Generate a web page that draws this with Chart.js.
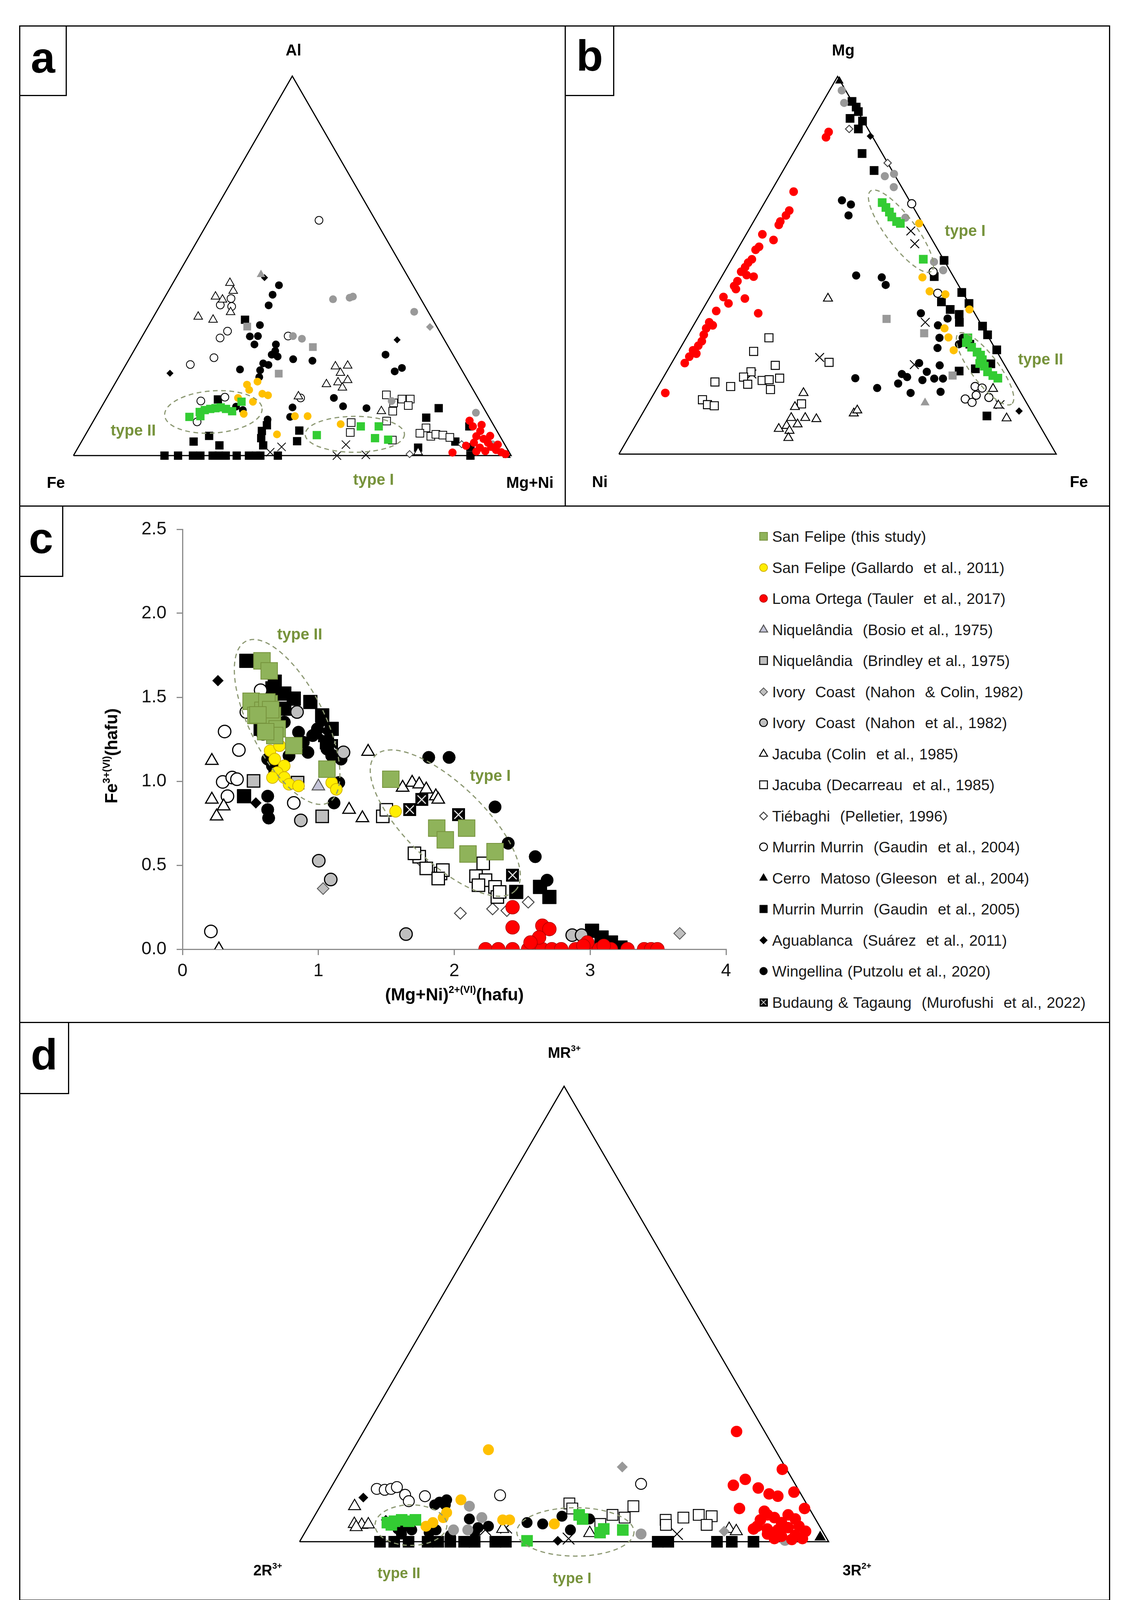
<!DOCTYPE html>
<html>
<head>
<meta charset="utf-8">
<script src="https://cdn.jsdelivr.net/npm/chart.js@4.4.0/dist/chart.umd.min.js"></script>
<style>
html,body{margin:0;padding:0;background:#fff;}
#page{position:relative;width:2902px;height:4162px;background:#fff;font-family:"Liberation Sans",Arial,sans-serif;color:#000;overflow:hidden;}
.abs{position:absolute;}
.t{position:absolute;transform:translate(-50%,-50%);white-space:nowrap;line-height:1;}
.hl{position:absolute;height:0;border-top:3px solid #000;}
.vl{position:absolute;width:0;border-left:3px solid #000;}
.box{position:absolute;border-right:3px solid #000;border-bottom:3px solid #000;box-sizing:border-box;}
.plab{font-weight:bold;font-size:112px;}
.corner{font-weight:bold;font-size:40px;}
.typ{font-weight:bold;font-size:40px;color:#77933c;}
.leg{position:absolute;font-size:39px;color:#1a1a1a;white-space:nowrap;transform:translateY(-50%);line-height:1;word-spacing:2px;}
sup{font-size:58%;vertical-align:0;position:relative;top:-0.75em;}
canvas{position:absolute;}
</style>
</head>
<body>
<div id="page"></div>
<script>
// ---------------- DATA ----------------
const SERIES = [
  'San Felipe (this study)',
  'San Felipe (Gallardo  et al., 2011)',
  'Loma Ortega (Tauler  et al., 2017)',
  'Niquelândia  (Bosio et al., 1975)',
  'Niquelândia  (Brindley et al., 1975)',
  'Ivory  Coast  (Nahon  & Colin, 1982)',
  'Ivory  Coast  (Nahon  et al., 1982)',
  'Jacuba (Colin  et al., 1985)',
  'Jacuba (Decarreau  et al., 1985)',
  'Tiébaghi  (Pelletier, 1996)',
  'Murrin Murrin  (Gaudin  et al., 2004)',
  'Cerro  Matoso (Gleeson  et al., 2004)',
  'Murrin Murrin  (Gaudin  et al., 2005)',
  'Aguablanca  (Suárez  et al., 2011)',
  'Wingellina (Putzolu et al., 2020)',
  'Budaung & Tagaung  (Murofushi  et al., 2022)'
];

// Panel c: [(Mg+Ni)2+(VI), Fe3+(VI)] in hafu
const xTicksC = [0, 1, 2, 3, 4];
const yTicksC = [0.0, 0.5, 1.0, 1.5, 2.0, 2.5];
const cThisStudy = [[0.585,1.717],[0.638,1.657],[0.505,1.476],[0.638,1.462],[0.592,1.422],[0.540,1.392],[0.662,1.392],[0.697,1.312],[0.679,1.272],[0.612,1.295],[0.621,1.472],[0.649,1.426],[0.555,1.395],[0.819,1.212],[1.063,1.072],[1.533,1.012],[1.871,0.721],[1.934,0.651],[2.091,0.721],[2.101,0.567],[2.300,0.581]];
const cGallardo = [[0.645,1.182],[0.714,1.212],[0.679,1.132],[0.749,1.092],[0.697,1.052],[0.662,1.022],[0.749,1.022],[0.784,0.982],[0.854,0.972],[1.098,0.992],[1.132,0.952],[1.568,0.821]];
const cTauler = [[2.230,0],[2.324,0],[2.429,0],[2.544,0],[2.648,0],[2.718,0],[2.787,0],[2.892,0],[2.979,0],[3.066,0],[3.153,0],[3.275,0],[3.397,0],[3.449,0],[3.495,0],[2.429,0.250],[2.429,0.130],[2.648,0.140],[2.700,0.120],[2.624,0.070],[2.561,0.040],[2.979,0.040],[2.95,0.02],[3.10,0.02]];
const cBosio = [[1.00,0.97]];
const cBrindley = [[0.523,1.002],[0.847,0.992],[1.028,0.791]];
const cNahonColin = [[1.035,0.361],[3.659,0.094]];
const cNahon = [[0.843,1.412],[1.185,1.172],[0.871,0.767],[1.003,0.527],[1.091,0.415],[1.645,0.090],[2.868,0.084],[2.937,0.084]];
const cColin = [[0.216,1.122],[0.216,0.891],[0.251,0.791],[0.303,0.851],[1.226,0.831],[1.324,0.781],[1.366,1.176],[1.620,0.962],[1.690,0.992],[1.742,0.982],[1.794,0.952],[1.864,0.911],[1.882,0.891],[0.268,0.0]];
const cDecarreau = [[1.474,0.791],[1.50,0.83],[1.742,0.551],[1.794,0.481],[1.899,0.451],[1.916,0.471],[1.882,0.421],[2.160,0.435],[2.230,0.411],[2.300,0.371],[2.317,0.311],[2.178,0.381],[2.213,0.511],[1.707,0.571],[2.334,0.341]];
const cPelletier = [[1.760,0.521],[2.045,0.214],[2.282,0.240],[2.387,0.230],[2.544,0.280]];
const cGaudin04 = [[0.310,1.296],[0.415,1.186],[0.296,0.996],[0.366,1.022],[0.401,1.012],[0.331,0.911],[0.575,1.542],[0.470,1.412],[0.592,1.282],[0.819,0.871],[0.209,0.106]];
const cGleeson = [[3.014,0.010]];
const cGaudin05 = [[0.470,1.717],[0.679,1.593],[0.662,1.553],[0.749,1.522],[0.819,1.492],[0.941,1.472],[0.749,1.432],[0.575,1.312],[2.456,0.341],[2.631,0.371],[2.700,0.311],[3.014,0.110],[3.084,0.070],[3.153,0.040],[3.223,0.010],[0.453,0.911],[1.028,1.392],[1.098,1.312],[1.063,1.232]];
const cSuarez = [[0.261,1.599],[0.540,0.871]];
const cPutzolu = [[0.627,1.132],[0.662,1.092],[0.679,1.052],[0.627,0.911],[0.627,0.831],[0.634,0.781],[1.812,1.142],[1.962,1.142],[2.300,0.847],[2.397,0.631],[2.596,0.551],[2.683,0.411],[1.115,0.871],[1.150,0.992],[0.784,1.152],[0.889,1.232],[0.958,1.272],[0.923,1.172],[1.098,1.152],[1.167,1.132],[0.993,1.312],[0.854,1.292],[1.063,1.192],[0.749,1.352]];
const cMurofushi = [[1.028,1.312],[1.045,1.272],[1.098,1.212],[1.672,0.831],[1.760,0.891],[2.031,0.801],[2.429,0.441]];

// Panel a: ternary [Al %, Mg+Ni %] (Fe = remainder)
const aThisStudy = [[10.2,21.4],[11.5,23.1],[12.0,24.0],[12.3,25.1],[12.5,26.2],[12.7,27.3],[12.3,28.7],[11.7,30.4],[14.2,31.3],[10.4,23.8],[5.4,52.9],[7.7,61.8],[7.7,65.9],[4.6,66.6],[4.2,69.8]];
const aGallardo = [[18.7,30.3],[19.5,32.3],[17.3,31.5],[16.3,35.0],[15.9,36.5],[15.2,30.0],[14.2,33.9],[11.0,33.4],[10.4,45.4],[10.4,48.3],[8.3,56.9],[5.6,43.7]];
const aTauler = [[9.2,85.9],[7.7,87.4],[6.5,89.7],[5.1,89.5],[4.4,91.5],[3.4,93.0],[2.3,94.3],[1.5,95.8],[0.9,97.3],[0.4,98.5],[2.1,91.8],[1.2,93.5],[3.4,89.8],[0.8,86.2],[2.6,88.4],[5.2,92.6],[2.9,95.5],[1.1,91.5],[8.1,89.2]];
const aBosio = [[47.7,19.0]];
const aBrindley = [[28.6,40.4],[34.0,22.7],[21.6,36.1]];
const aNahonColin = [[33.9,64.5]];
const aNahon = [[41.2,38.7],[41.6,42.3],[41.9,42.9],[37.9,58.9],[31.5,34.4],[30.8,36.8],[11.3,86.3],[3.0,94.2],[14.4,65.5]];
const aColin = [[45.5,13.0],[43.4,14.8],[41.9,11.5],[41.1,13.5],[37.8,17.0],[36.6,10.2],[35.8,14.0],[23.5,48.1],[23.7,50.8],[21.8,50.1],[19.3,50.8],[19.9,52.7],[18.8,48.4],[17.9,52.5],[11.7,64.5],[0.9,78.3],[15.6,43.6]];
const aDecarreau = [[16.0,63.5],[13.9,66.2],[14.9,67.6],[14.9,69.5],[13.2,69.9],[11.7,67.1],[9.1,67.0],[8.7,59.1],[6.1,60.2],[4.1,70.8],[7.3,76.9],[5.9,76.2],[5.1,79.1],[5.6,80.0],[5.4,81.7],[4.8,83.6]];
const aPelletier = [[0.4,76.6],[3.0,87.2]];
const aGaudin04 = [[62.0,25.1],[41.4,15.3],[39.3,16.5],[32.8,18.8],[31.0,18.0],[25.8,19.2],[24.0,14.7],[14.4,21.9],[8.9,23.8],[15.4,26.9],[31.5,33.3],[15.2,44.3],[39.7,13.7]];
const aGleeson = [[0,99]];
const aGaudin05 = [[35.8,21.3],[14.8,25.6],[8.0,40.2],[6.5,39.8],[4.6,40.6],[2.7,42.0],[6.6,48.3],[3.8,49.2],[5.2,28.4],[3.7,25.6],[2.7,32.0],[12.5,77.2],[10.0,75.6],[2.1,77.7],[7.7,86.6],[3.7,85.4],[2.2,89.6],[0,20.8],[0,23.9],[0,27.3],[0,29.0],[0,31.8],[0,33.2],[0,34.8],[0,37.3],[0,40.1],[0,41.7],[0,42.7],[0,46.7],[0,90.7]];
const aSuarez = [[46.9,20.2],[21.7,11.2],[30.5,58.7]];
const aPutzolu = [[44.9,24.5],[42.4,24.3],[39.6,24.8],[34.4,25.4],[31.4,24.6],[31.5,26.4],[29.3,26.7],[29.3,31.6],[26.6,32.0],[26.1,33.6],[25.4,37.5],[25.0,42.1],[23.9,32.6],[24.3,31.2],[22.5,31.4],[22.7,26.7],[20.7,32.1],[15.2,51.9],[13.0,55.1],[12.5,60.7],[26.6,58.0],[22.2,62.3],[23.1,63.5],[12.7,43.7],[10.2,44.4],[9.5,39.6],[12.9,30.7],[12.0,32.7],[27.6,32.3]];
const aMurofushi = [[2.3,46.4],[0.9,44.5],[0,60.2],[2.9,60.8],[0.2,66.7]];

// Panel b: ternary [Mg %, Fe %] (Ni = remainder)
const bThisStudy = [[66.6,26.9],[65.3,28.4],[64.1,29.8],[62.8,31.0],[61.6,32.7],[61.1,33.8],[51.6,43.8],[30.8,64.4],[29.5,64.7],[28.3,66.5],[27.0,68.4],[26.2,69.6],[25.0,70.6],[24.0,70.5],[23.3,71.9],[21.8,73.4],[20.8,75.1],[20.1,76.6]];
const bGallardo = [[61.1,38.1],[46.8,46.0],[43.1,49.5],[42.3,53.5],[33.3,57.8],[30.9,59.9],[27.5,62.8],[38.3,61.0]];
const bTauler = [[16.2,2.5],[24.1,3.0],[25.8,3.2],[27.5,3.2],[26.6,4.4],[28.7,3.8],[29.9,4.0],[31.6,3.6],[33.3,3.3],[34.9,3.2],[34.1,4.4],[37.9,3.3],[41.6,3.1],[39.9,5.1],[44.5,4.1],[45.8,4.2],[43.7,4.9],[48.3,3.8],[49.5,4.1],[50.7,4.2],[47.4,5.5],[47.0,7.3],[51.6,4.6],[54.1,4.2],[54.9,4.6],[41.2,8.2],[37.3,13.2],[58.2,3.7],[56.7,7.0],[60.7,6.2],[61.6,6.1],[63.2,6.6],[64.5,6.7],[69.5,5.2],[83.9,5.4],[85.3,5.3]];
const bBosio = [[13.6,63.2]];
const bBrindley = [[35.8,43.3],[32.0,53.8],[20.8,65.9]];
const bNahonColin = [];
const bNahon = [[96.3,2.8],[93.0,5.0],[73.6,24.0],[74.2,25.8],[70.7,27.5],[62.6,34.2],[50.9,46.6],[48.7,49.8]];
const bColin = [[41.2,27.2],[16.2,34.1],[12.5,34.0],[9.6,34.6],[7.5,34.6],[6.7,33.2],[6.2,35.9],[7.9,36.9],[4.3,36.6],[9.6,37.8],[9.3,40.5],[10.8,48.3],[11.6,48.7],[17.3,76.9],[12.9,80.3],[9.5,83.9]];
const bDecarreau = [[30.8,18.9],[27.2,17.2],[23.5,24.0],[21.8,19.3],[20.4,18.3],[18.5,20.2],[19.5,23.0],[19.7,24.5],[20.1,26.7],[17.1,26.1],[19.1,12.4],[17.9,16.6],[14.4,11.9],[13.1,13.7],[12.8,15.4],[24.3,35.9],[13.3,35.1]];
const bPelletier = [[86.1,9.6],[77.1,22.9]];
const bGaudin04 = [[66.3,33.8],[48.3,47.7],[42.6,51.6],[17.9,72.5],[17.5,74.3],[14.6,71.9],[13.7,73.9],[15.6,73.9],[15.0,77.1]];
const bGleeson = [[98.8,1.0]];
const bGaudin05 = [[93.4,6.6],[91.9,8.3],[90.7,9.4],[88.9,8.4],[88.2,11.6],[86.1,11.7],[79.6,15.8],[75.1,20.8],[51.3,48.7],[47.0,48.6],[42.8,57.0],[40.3,53.6],[39.9,60.1],[38.3,56.6],[37.0,59.3],[34.9,60.4],[33.9,66.2],[31.6,68.5],[27.6,72.6],[29.1,65.7],[23.9,73.1],[22.0,66.8],[22.6,70.2],[10.1,79.1]];
const bSuarez = [[84.2,15.4],[11.4,85.8]];
const bPutzolu = [[67.2,17.4],[66.1,20.0],[63.2,20.9],[47.3,30.6],[46.8,36.7],[44.8,38.6],[37.3,50.4],[34.1,55.9],[30.8,57.9],[28.1,58.8],[35.9,57.2],[24.1,56.6],[23.5,61.6],[21.8,59.5],[21.2,54.1],[20.4,55.7],[18.7,54.5],[19.6,59.6],[20.0,62.1],[20.0,64.1],[16.2,58.6],[16.5,65.3],[17.5,50.3],[20.1,44.0],[29.1,63.2],[30.8,63.2]];
const bMurofushi = [[21.2,19.8],[25.6,33.1],[59.1,37.2],[55.7,39.8],[34.9,52.6],[23.7,55.7],[13.1,80.6]];

// Panel d: ternary [MR3+ %, 3R2+ %] (2R3+ = remainder)
const dThisStudy = [[4.2,14.5],[4.5,15.7],[4.8,16.9],[4.5,18.4],[4.8,19.5],[3.7,15.5],[0.2,42.9],[5.9,49.9],[5.0,51.0],[2.0,55.8],[2.8,56.1],[2.6,59.8]];
const dGallardo = [[20.2,25.6],[9.2,25.9],[6.4,24.6],[5.3,24.5],[4.2,23.1],[3.4,22.2],[4.8,36.0],[4.8,37.3],[3.9,46.2]];
const dTauler = [[24.2,70.5],[15.9,83.3],[13.7,77.4],[12.4,75.8],[11.8,80.8],[10.5,83.5],[10.0,85.4],[10.9,88.0],[7.3,79.5],[7.3,91.8],[6.7,84.5],[5.9,85.5],[4.8,84.7],[5.3,87.1],[5.9,89.4],[5.0,91.2],[4.2,89.0],[3.4,84.8],[2.8,87.0],[2.6,89.1],[3.1,90.8],[3.4,92.7],[2.3,94.5],[1.4,93.0],[1.2,90.5],[1.7,87.6],[0.7,94.7],[0.5,92.8],[0.7,89.4],[2.8,84.4]];
const dBosio = [];
const dBrindley = [];
const dNahonColin = [[16.4,52.8],[2.3,79.1]];
const dNahon = [[7.8,28.2],[2.6,27.8],[5.3,31.8],[2.6,30.5],[1.7,63.7],[0.3,91.6]];
const dColin = [[7.8,6.5],[3.9,8.4],[3.7,9.9],[3.8,11.1],[3.2,9.1],[2.8,37.0],[1.9,53.9],[2.8,79.8],[2.3,81.4]];
const dDecarreau = [[8.4,46.8],[7.3,47.9],[5.9,56.2],[5.3,58.8],[7.8,59.2],[4.8,66.8],[3.7,67.4],[5.3,69.9],[5.9,72.5],[5.6,75.1],[3.7,75.1],[3.9,54.9]];
const dPelletier = [];
const dGaudin04 = [[11.6,8.8],[11.4,10.4],[11.6,11.5],[12.0,12.4],[10.3,14.8],[8.9,16.2],[10.0,18.7],[10.2,32.8],[12.7,58.2]];
const dGleeson = [[1.0,97.9]];
const dGaudin05 = [[0,15.2],[0,17.9],[0,20.6],[0,24.2],[0,26.2],[0,28.5],[0,31.1],[0,33.1],[0,37.0],[0,39.0],[0,67.7],[0,69.7],[0,78.9],[0,81.7],[0,85.8]];
const dSuarez = [[9.7,7.2],[4.8,13.9],[0.2,48.7]];
const dPutzolu = [[8.1,21.5],[8.7,22.1],[9.2,23.2],[8.1,23.5],[5.0,29.6],[3.1,32.2],[3.4,34.0],[4.2,40.9],[3.9,44.0],[5.6,46.8],[2.6,49.9],[5.0,52.3],[2.8,17.2],[3.4,18.2],[2.6,19.9],[1.7,18.4],[2.0,23.5],[2.6,24.5],[1.4,27.8],[2.0,32.1]];
const dMurofushi = [[3.1,37.5],[1.7,70.5],[0.7,50.5],[2.6,33.8]];

// triangle corners as compositions [top %, right %]
const TRI = [[0,0],[0,100],[100,0],[0,0]];

// ---------------- STYLES ----------------
const C_SETS = [cThisStudy,cGallardo,cTauler,cBosio,cBrindley,cNahonColin,cNahon,cColin,cDecarreau,cPelletier,cGaudin04,cGleeson,cGaudin05,cSuarez,cPutzolu,cMurofushi];
const A_SETS = [aThisStudy,aGallardo,aTauler,aBosio,aBrindley,aNahonColin,aNahon,aColin,aDecarreau,aPelletier,aGaudin04,aGleeson,aGaudin05,aSuarez,aPutzolu,aMurofushi];
const B_SETS = [bThisStudy,bGallardo,bTauler,bBosio,bBrindley,bNahonColin,bNahon,bColin,bDecarreau,bPelletier,bGaudin04,bGleeson,bGaudin05,bSuarez,bPutzolu,bMurofushi];
const D_SETS = [dThisStudy,dGallardo,dTauler,dBosio,dBrindley,dNahonColin,dNahon,dColin,dDecarreau,dPelletier,dGaudin04,dGleeson,dGaudin05,dSuarez,dPutzolu,dMurofushi];

function xBoxImage(size){
  const cv = document.createElement('canvas');
  cv.width = size; cv.height = size;
  const g = cv.getContext('2d');
  g.fillStyle = '#000'; g.fillRect(0,0,size,size);
  g.strokeStyle = '#fff'; g.lineWidth = Math.max(1.5, size*0.08);
  const m = size*0.18;
  g.beginPath(); g.moveTo(m,m); g.lineTo(size-m,size-m); g.moveTo(size-m,m); g.lineTo(m,size-m); g.stroke();
  return cv;
}
const XBOX_C = xBoxImage(33);
const XBOX_L = xBoxImage(21);

// c-panel styles
const C_STY = [
  {s:'rect', f:'#8fb35a', b:'#76923c', w:2, r:30},
  {s:'circle', f:'#ffee00', b:'#d4b400', w:2, r:15},
  {s:'circle', f:'#ff0000', b:'#b00000', w:1.5, r:17.5},
  {s:'triangle', f:'#c4c4d8', b:'#555', w:2.5, r:18.5},
  {s:'rect', f:'#bfbfbf', b:'#000', w:3, r:22.5},
  {s:'rectRot', f:'#bfbfbf', b:'#555', w:2, r:15},
  {s:'circle', f:'#bfbfbf', b:'#000', w:3, r:16},
  {s:'triangle', f:'#fff', b:'#000', w:3, r:18.5},
  {s:'rect', f:'#fff', b:'#000', w:3, r:22.5},
  {s:'rectRot', f:'#fff', b:'#444', w:2.5, r:15},
  {s:'circle', f:'#fff', b:'#000', w:3, r:16},
  {s:'triangle', f:'#000', b:'#000', w:1, r:17},
  {s:'rect', f:'#000', b:'#000', w:1, r:25},
  {s:'rectRot', f:'#000', b:'#000', w:1, r:14},
  {s:'circle', f:'#000', b:'#000', w:1, r:16},
  {s:XBOX_C, f:'#000', b:'#000', w:0, r:16}
];
// ternary styles (base radius, scaled per panel)
const T_STY = [
  {s:'rect', f:'#33cc33', b:'#33cc33', w:0, r:15},
  {s:'circle', f:'#ffc000', b:'#ffc000', w:0, r:10},
  {s:'circle', f:'#ff0000', b:'#ff0000', w:0, r:10.5},
  {s:'triangle', f:'#999', b:'#999', w:0, r:12.7},
  {s:'rect', f:'#999', b:'#999', w:0, r:14},
  {s:'rectRot', f:'#999', b:'#999', w:0, r:10},
  {s:'circle', f:'#999', b:'#999', w:0, r:10},
  {s:'triangle', f:'#fff', b:'#000', w:2, r:12.7},
  {s:'rect', f:'#fff', b:'#000', w:2, r:14},
  {s:'rectRot', f:'#fff', b:'#444', w:2, r:9},
  {s:'circle', f:'#fff', b:'#000', w:2, r:10},
  {s:'triangle', f:'#000', b:'#000', w:0, r:12},
  {s:'rect', f:'#000', b:'#000', w:0, r:15},
  {s:'rectRot', f:'#000', b:'#000', w:0, r:9},
  {s:'circle', f:'#000', b:'#000', w:0, r:10},
  {s:'crossRot', f:'#000', b:'#000', w:2, r:15}
];

// ---------------- LAYOUT HELPERS ----------------
const page = document.getElementById('page');
function el(tag, cls, css, html){
  const e = document.createElement(tag);
  if (cls) e.className = cls;
  Object.assign(e.style, css||{});
  if (html !== undefined) e.innerHTML = html;
  page.appendChild(e);
  return e;
}
function text(html, x, y, cls, extra){ return el('div', 't '+cls, Object.assign({left:x+'px', top:y+'px'}, extra||{}), html); }
function canvasAt(x, y, w, h){
  const c = document.createElement('canvas');
  c.width = w; c.height = h;
  c.style.left = x+'px'; c.style.top = y+'px'; c.style.width = w+'px'; c.style.height = h+'px';
  page.appendChild(c);
  return c;
}

// frame
el('div','abs',{left:'49px',top:'65px',width:'2792px',height:'4033px',border:'3px solid #000',boxSizing:'border-box'});
el('div','hl',{left:'49px',top:'1294px',width:'2792px'});
el('div','hl',{left:'49px',top:'2616px',width:'2792px'});
el('div','vl',{left:'1445px',top:'65px',height:'1230px'});
el('div','box',{left:'49px',top:'65px',width:'122px',height:'181px'});
el('div','box',{left:'1445px',top:'65px',width:'127px',height:'181px'});
el('div','box',{left:'49px',top:'1294px',width:'113px',height:'183px'});
el('div','box',{left:'49px',top:'2616px',width:'128px',height:'185px'});
text('a',110,148,'plab');
text('b',1509,143,'plab');
text('c',105,1378,'plab');
text('d',113,2700,'plab');

// ---------------- PLUGINS ----------------
function ellipsePlugin(items){
  return {
    id:'ellipses',
    afterDatasetsDraw(chart){
      const ctx = chart.ctx, xs = chart.scales.x, ys = chart.scales.y;
      ctx.save();
      ctx.strokeStyle = '#8c9872';
      ctx.lineWidth = 3;
      ctx.setLineDash([12,9]);
      items.forEach(it => {
        const cx = xs.getPixelForValue(it.x), cy = ys.getPixelForValue(it.y);
        ctx.beginPath();
        ctx.ellipse(cx, cy, it.rx, it.ry, it.rot*Math.PI/180, 0, Math.PI*2);
        ctx.stroke();
      });
      ctx.restore();
    }
  };
}

function tern(pairs){ return pairs.map(p => ({x:(p[1] + p[0]/2)/100, y:p[0]/100})); }

function ternChart(cv, xr, yr, sets, k, ellipses){
  const datasets = sets.map((d,i) => {
    const st = T_STY[i];
    return {
      label: SERIES[i], data: tern(d), showLine:false,
      pointStyle: st.s, pointRadius: st.r*k, pointBackgroundColor: st.f,
      pointBorderColor: st.b, pointBorderWidth: st.w*(k>1?1.2:1), order: i
    };
  });
  datasets.push({
    label:'outline', type:'line', data: tern(TRI), showLine:true, borderColor:'#000', borderWidth:3,
    pointRadius:0, fill:false, order:100, tension:0
  });
  return new Chart(cv, {
    type:'scatter',
    data:{datasets},
    options:{
      responsive:false, animation:false, devicePixelRatio:1, events:[],
      layout:{padding:0},
      scales:{
        x:{type:'linear', min:xr[0], max:xr[1], display:false},
        y:{type:'linear', min:yr[0], max:yr[1], display:false}
      },
      plugins:{legend:{display:false}, tooltip:{enabled:false}}
    },
    plugins:[ellipsePlugin(ellipses)]
  });
}

// ---------------- PANEL a ----------------
ternChart(canvasAt(49,65,1397,1237), [-0.1089,1.1080], [-0.1221,1.1161], A_SETS, 1,
  [{x:0.3197,y:0.1151,rx:125,ry:54,rot:-4},{x:0.6429,y:0.0561,rx:127,ry:46,rot:0}]);
text('Al',751,128,'corner');
text('Fe',143,1235,'corner');
text('Mg+Ni',1356,1235,'corner');
text('type II',341,1101,'typ');
text('type I',956,1227,'typ');

// ---------------- PANEL b ----------------
ternChart(canvasAt(1446,65,1395,1237), [-0.1070,1.1071], [-0.1255,1.1165], B_SETS, 1.05,
  [{x:0.6449,y:0.5904,rx:129,ry:38,rot:53},{x:0.8372,y:0.2259,rx:113,ry:35,rot:53}]);
text('Mg',2158,128,'corner');
text('Ni',1535,1233,'corner');
text('Fe',2761,1233,'corner');
text('type I',2470,590,'typ');
text('type II',2663,919,'typ');

// ---------------- PANEL d ----------------
ternChart(canvasAt(50,2618,2791,1484), [-0.5120,1.5149], [-0.1130,1.1196], D_SETS, 1.4,
  [{x:0.2106,y:0.0365,rx:92,ry:52,rot:0},{x:0.5214,y:0.0216,rx:150,ry:62,rot:0}]);
text('MR<sup>3+</sup>',1444,2695,'corner',{fontSize:'38px'});
text('2R<sup>3+</sup>',685,4020,'corner',{fontSize:'38px'});
text('3R<sup>2+</sup>',2193,4020,'corner',{fontSize:'38px'});
text('type II',1021,4027,'typ',{fontSize:'38px'});
text('type I',1464,4040,'typ',{fontSize:'38px'});

// ---------------- PANEL c ----------------
(function(){
  const W = 1852, H = 1322;
  const cv = canvasAt(48,1295,W,H);
  const datasets = C_SETS.map((d,i) => {
    const st = C_STY[i];
    return {
      label: SERIES[i], data: d.map(p => ({x:p[0], y:p[1]})), showLine:false,
      pointStyle: st.s, pointRadius: st.r, pointBackgroundColor: st.f,
      pointBorderColor: st.b, pointBorderWidth: st.w, order: i
    };
  });
  const axisCol = '#8c8c8c';
  const tickFont = {family:'"Liberation Sans Narrow", "Liberation Sans", Arial', size:46};
  new Chart(cv, {
    type:'scatter',
    data:{datasets},
    options:{
      responsive:false, animation:false, devicePixelRatio:1, events:[],
      layout:{padding:{left:0, top:60, right:42, bottom:0}},
      scales:{
        x:{type:'linear', min:xTicksC[0], max:xTicksC[xTicksC.length-1],
           afterFit(s){ s.height = 187; },
           afterBuildTicks(s){ s.ticks = xTicksC.map(v => ({value:v})); },
           ticks:{font:tickFont, color:'#111', padding:14, callback:v => String(v)},
           grid:{display:true, drawOnChartArea:false, drawTicks:true, tickLength:15, color:axisCol, lineWidth:3},
           border:{display:true, color:axisCol, width:3}},
        y:{type:'linear', min:yTicksC[0], max:yTicksC[yTicksC.length-1],
           afterFit(s){ s.width = 419; },
           afterBuildTicks(s){ s.ticks = yTicksC.map(v => ({value:v})); },
           ticks:{font:tickFont, color:'#111', padding:26, callback:v => Number(v).toFixed(1)},
           grid:{display:true, drawOnChartArea:false, drawTicks:true, tickLength:15, color:axisCol, lineWidth:3},
           border:{display:true, color:axisCol, width:3}}
      },
      plugins:{legend:{display:false}, tooltip:{enabled:false}}
    },
    plugins:[ellipsePlugin([
      {x:0.770,y:1.353,rx:232,ry:95,rot:63},
      {x:1.934,y:0.751,rx:249,ry:100,rot:44}
    ])]
  });
  text('(Mg+Ni)<sup>2+(VI)</sup>(hafu)',1163,2546,'corner',{fontSize:'44px'});
  text('Fe<sup>3+(VI)</sup>(hafu)',285,1935,'corner',{fontSize:'44px',transform:'translate(-50%,-50%) rotate(-90deg)'});
  text('type II',767,1623,'typ');
  text('type I',1255,1985,'typ');

  // legend
  SERIES.forEach((name,i) => {
    const y = 1373 + i*79.5;
    const mc = canvasAt(1954-16, Math.round(y-16), 32, 32);
    const g = mc.getContext('2d');
    const st = C_STY[i];
    let style = st.s, rad = 10;
    if (i === 15) style = XBOX_L;
    if (style === 'rect') rad = 14;
    if (style === 'triangle') rad = 12;
    g.fillStyle = st.f; g.strokeStyle = st.b; g.lineWidth = Math.min(st.w, 2.5);
    Chart.helpers.drawPoint(g, {pointStyle: style, radius: rad, rotation: 0, borderWidth: i===15?0:Math.min(st.w,2.5)}, 16, 16);
    el('div','leg',{left:'1976px', top:y+'px'}, name.replace(/  /g,' &nbsp;'));
  });
})();
</script>
</body>
</html>
